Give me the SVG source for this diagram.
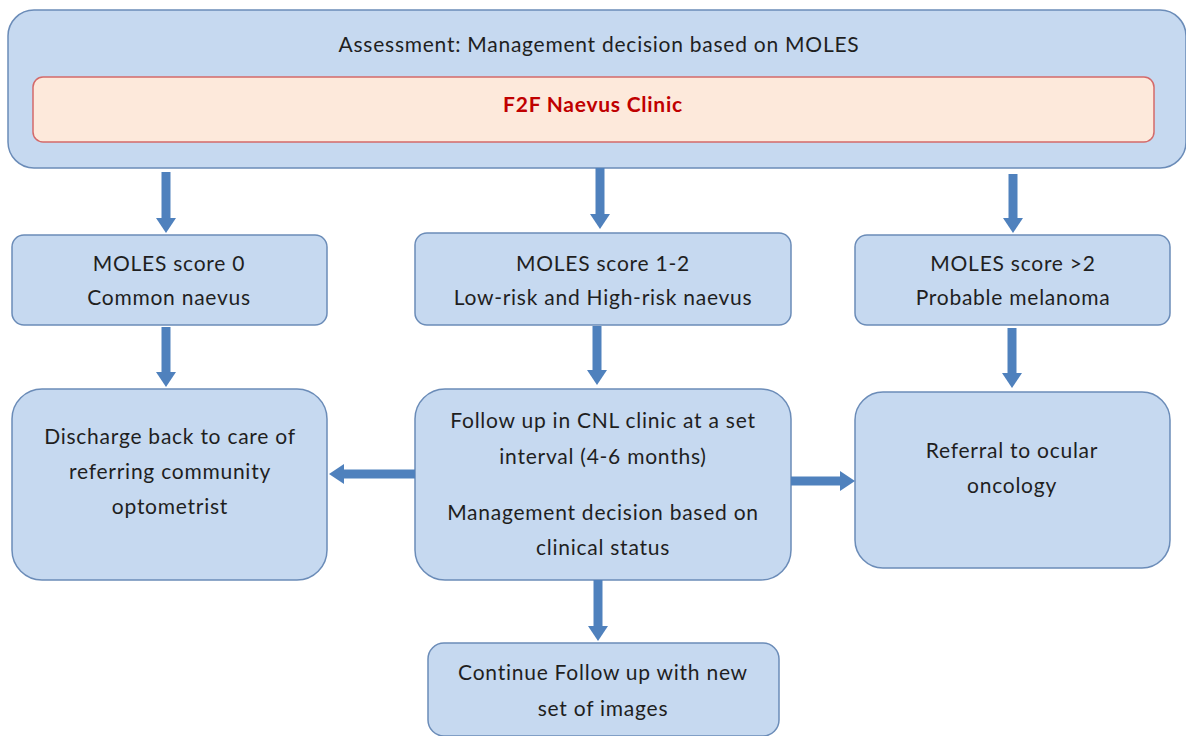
<svg xmlns="http://www.w3.org/2000/svg" width="1186" height="736" viewBox="0 0 1186 736">
<defs>
<style>
.box{fill:#c6d9f0;stroke:#6b8cb8;stroke-width:1.5}
.inner{fill:#fde9db;stroke:#d46a6a;stroke-width:1.5}
text{font-family:Lato,"Open Sans","Liberation Sans",sans-serif;font-size:21px;letter-spacing:0.75px;fill:#1f1f1f;text-anchor:middle}
.red{fill:#c00000;font-weight:bold}
.conn line{stroke:#4f81bd;stroke-width:9;fill:none}
</style>
<marker id="ah" markerUnits="userSpaceOnUse" markerWidth="15" markerHeight="20" viewBox="0 0 15 20" refX="0" refY="10" orient="auto">
<path d="M0,0 L15,10 L0,20 z" fill="#4f81bd"/>
</marker>
</defs>
<rect width="1186" height="736" fill="#ffffff"/>
<g id="assessment">
<rect class="box" x="8" y="10" width="1178" height="158" rx="26"/>
<text x="599" y="52">Assessment: Management decision based on MOLES</text>
</g>
<g id="f2f">
<rect class="inner" x="33" y="77" width="1121" height="65" rx="10"/>
<text class="red" x="593" y="112">F2F Naevus Clinic</text>
</g>
<g id="score0">
<rect class="box" x="12" y="235" width="315" height="90" rx="12"/>
<text x="169" y="271">MOLES score 0</text>
<text x="169" y="305">Common naevus</text>
</g>
<g id="score12">
<rect class="box" x="415" y="233" width="376" height="92" rx="12"/>
<text x="603" y="271">MOLES score 1-2</text>
<text x="603" y="305">Low-risk and High-risk naevus</text>
</g>
<g id="score2">
<rect class="box" x="855" y="235" width="315" height="90" rx="12"/>
<text x="1013" y="271">MOLES score &gt;2</text>
<text x="1013" y="305">Probable melanoma</text>
</g>
<g id="discharge">
<rect class="box" x="12" y="389" width="315" height="191" rx="30"/>
<text x="170" y="444">Discharge back to care of</text>
<text x="170" y="479">referring community</text>
<text x="170" y="514">optometrist</text>
</g>
<g id="followup">
<rect class="box" x="415" y="389" width="376" height="191" rx="30"/>
<text x="603" y="428">Follow up in CNL clinic at a set</text>
<text x="603" y="464">interval (4-6 months)</text>
<text x="603" y="520">Management decision based on</text>
<text x="603" y="555">clinical status</text>
</g>
<g id="referral">
<rect class="box" x="855" y="392" width="315" height="176" rx="28"/>
<text x="1012" y="458">Referral to ocular</text>
<text x="1012" y="493">oncology</text>
</g>
<g id="continue">
<rect class="box" x="428" y="643" width="351" height="93" rx="16"/>
<text x="603" y="680">Continue Follow up with new</text>
<text x="603" y="716">set of images</text>
</g>
<g class="conn" id="connectors">
<line x1="166" y1="172" x2="166" y2="218" marker-end="url(#ah)"/>
<line x1="600" y1="168" x2="600" y2="214" marker-end="url(#ah)"/>
<line x1="1013" y1="174" x2="1013" y2="218" marker-end="url(#ah)"/>
<line x1="166" y1="327" x2="166" y2="372" marker-end="url(#ah)"/>
<line x1="597" y1="326" x2="597" y2="370" marker-end="url(#ah)"/>
<line x1="1012" y1="328" x2="1012" y2="373" marker-end="url(#ah)"/>
<line x1="415" y1="474" x2="344" y2="474" marker-end="url(#ah)"/>
<line x1="791" y1="481" x2="840" y2="481" marker-end="url(#ah)"/>
<line x1="598" y1="580" x2="598" y2="626" marker-end="url(#ah)"/>
</g>
</svg>
